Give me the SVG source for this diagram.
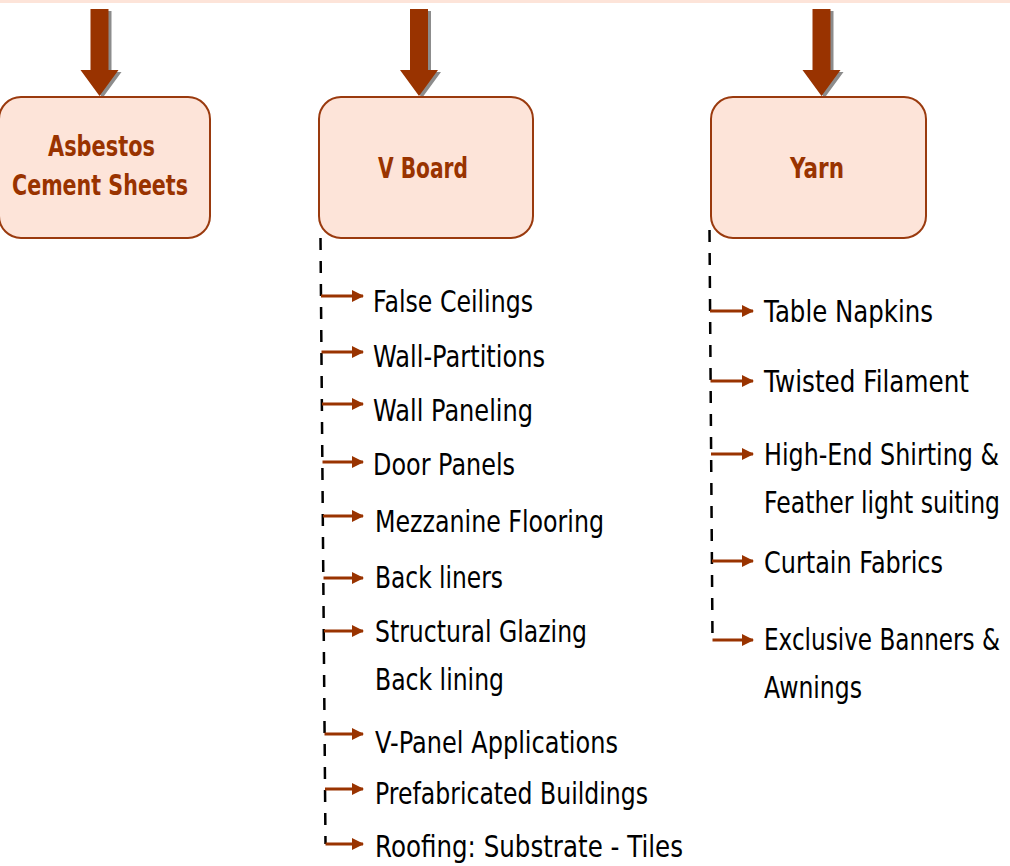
<svg xmlns="http://www.w3.org/2000/svg" width="1010" height="866" viewBox="0 0 1010 866">
<style>
.box{fill:#FDE4D9;stroke:#9A3A0E;stroke-width:2}
.title{font-family:"DejaVu Sans","Liberation Sans",sans-serif;font-weight:bold;font-size:28px;fill:#993300}
.item{font-family:"DejaVu Sans","Liberation Sans",sans-serif;font-size:30px;fill:#000}
.big{fill:#993300}
.shadow{fill:#8c8c8c}
.trunk{stroke:#000;stroke-width:2.5;stroke-dasharray:12 11;fill:none}
.branch{stroke:#993300;stroke-width:3;fill:none}
</style>
<defs>
<marker id="ah" markerUnits="userSpaceOnUse" markerWidth="12" markerHeight="12" refX="11" refY="6" orient="auto">
<path d="M0,0 L12,6 L0,12 Z" fill="#993300"/>
</marker>
<path id="bigArrow" d="M-9,9 L9,9 L9,70 L19,70 L0,96 L-19,70 L-9,70 Z"/>
</defs>
<rect x="0" y="0" width="1010" height="3" fill="#FDE4D9"/>

<g id="arrows-in">
<use href="#bigArrow" class="shadow" transform="translate(102.5,2)"/>
<use href="#bigArrow" class="big" transform="translate(99.5,0)"/>
<use href="#bigArrow" class="shadow" transform="translate(422,2)"/>
<use href="#bigArrow" class="big" transform="translate(419,0)"/>
<use href="#bigArrow" class="shadow" transform="translate(824.5,2)"/>
<use href="#bigArrow" class="big" transform="translate(821.5,0)"/>
</g>

<g id="node-asbestos">
<rect class="box" x="-1" y="97" width="211" height="141" rx="22"/>
<text class="title" x="48" y="156" textLength="107" lengthAdjust="spacingAndGlyphs">Asbestos</text>
<text class="title" x="12" y="195" textLength="176" lengthAdjust="spacingAndGlyphs">Cement Sheets</text>
</g>

<g id="node-vboard">
<rect class="box" x="319" y="97" width="214" height="141" rx="22"/>
<text class="title" x="378" y="178" textLength="90" lengthAdjust="spacingAndGlyphs">V Board</text>
</g>

<g id="node-yarn">
<rect class="box" x="711" y="97" width="215" height="141" rx="22"/>
<text class="title" x="790" y="178" textLength="54" lengthAdjust="spacingAndGlyphs">Yarn</text>
</g>

<g id="connectors">
<path class="trunk" d="M320.5,238 L325.5,844"/>
<path class="branch" d="M321,296 L363,296" marker-end="url(#ah)"/>
<path class="branch" d="M321.5,352 L363,352" marker-end="url(#ah)"/>
<path class="branch" d="M322,404 L363,404" marker-end="url(#ah)"/>
<path class="branch" d="M322.5,462 L363,462" marker-end="url(#ah)"/>
<path class="branch" d="M323,516 L363,516" marker-end="url(#ah)"/>
<path class="branch" d="M323.5,578 L363,578" marker-end="url(#ah)"/>
<path class="branch" d="M324,631 L363,631" marker-end="url(#ah)"/>
<path class="branch" d="M324.5,734 L363,734" marker-end="url(#ah)"/>
<path class="branch" d="M325,789 L363,789" marker-end="url(#ah)"/>
<path class="branch" d="M325.5,844 L363,844" marker-end="url(#ah)"/>

<path class="trunk" d="M709.5,230 L712.5,640"/>
<path class="branch" d="M710,311 L753,311" marker-end="url(#ah)"/>
<path class="branch" d="M710.5,381 L753,381" marker-end="url(#ah)"/>
<path class="branch" d="M711,454 L753,454" marker-end="url(#ah)"/>
<path class="branch" d="M712,561 L753,561" marker-end="url(#ah)"/>
<path class="branch" d="M712.5,640 L753,640" marker-end="url(#ah)"/>
</g>

<g id="vboard-items">
<text class="item" x="373" y="312" textLength="160" lengthAdjust="spacingAndGlyphs">False Ceilings</text>
<text class="item" x="373" y="367" textLength="172" lengthAdjust="spacingAndGlyphs">Wall-Partitions</text>
<text class="item" x="373" y="421" textLength="160" lengthAdjust="spacingAndGlyphs">Wall Paneling</text>
<text class="item" x="373" y="475" textLength="142" lengthAdjust="spacingAndGlyphs">Door Panels</text>
<text class="item" x="375" y="532" textLength="229" lengthAdjust="spacingAndGlyphs">Mezzanine Flooring</text>
<text class="item" x="375" y="588" textLength="128" lengthAdjust="spacingAndGlyphs">Back liners</text>
<text class="item" x="375" y="642" textLength="212" lengthAdjust="spacingAndGlyphs">Structural Glazing</text>
<text class="item" x="375" y="690" textLength="129" lengthAdjust="spacingAndGlyphs">Back lining</text>
<text class="item" x="375" y="753" textLength="243" lengthAdjust="spacingAndGlyphs">V-Panel Applications</text>
<text class="item" x="375" y="804" textLength="273" lengthAdjust="spacingAndGlyphs">Prefabricated Buildings</text>
<text class="item" x="375" y="857" textLength="308" lengthAdjust="spacingAndGlyphs">Roofing: Substrate - Tiles</text>
</g>

<g id="yarn-items">
<text class="item" x="764" y="322" textLength="169" lengthAdjust="spacingAndGlyphs">Table Napkins</text>
<text class="item" x="764" y="392" textLength="205" lengthAdjust="spacingAndGlyphs">Twisted Filament</text>
<text class="item" x="764" y="465" textLength="235" lengthAdjust="spacingAndGlyphs">High-End Shirting &amp;</text>
<text class="item" x="764" y="513" textLength="236" lengthAdjust="spacingAndGlyphs">Feather light suiting</text>
<text class="item" x="764" y="573" textLength="179" lengthAdjust="spacingAndGlyphs">Curtain Fabrics</text>
<text class="item" x="764" y="650" textLength="236" lengthAdjust="spacingAndGlyphs">Exclusive Banners &amp;</text>
<text class="item" x="764" y="698" textLength="98" lengthAdjust="spacingAndGlyphs">Awnings</text>
</g>
</svg>
